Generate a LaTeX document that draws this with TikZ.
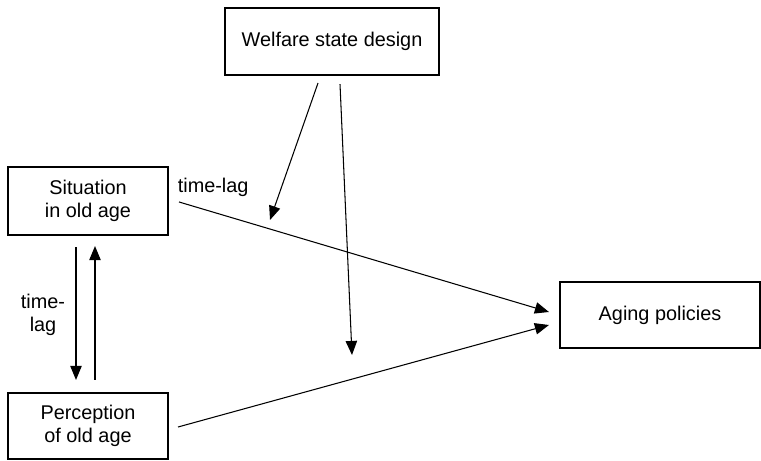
\documentclass[tikz,border=0pt]{standalone}
\usepackage{fontspec}
\setmainfont{Liberation Sans}
\usepackage{tikz}
\usetikzlibrary{arrows.meta, positioning, calc}

\tikzset{
  caixa/.style={draw, line width=1.2pt, align=center, inner sep=2pt,
    font=\fontsize{11.3}{13}\selectfont},
  seta/.style={-{Triangle[length=8pt, width=6.5pt]}, line width=0.6pt},
  rotulo/.style={font=\fontsize{11.3}{13}\selectfont, align=center, inner sep=0pt}
}

\begin{document}
\begin{tikzpicture}
\useasboundingbox (0,0) rectangle (15.22,9.22);

% --- CAIXAS ---
\node[caixa, minimum width=4.28cm, minimum height=1.34cm] (welfare) at (6.64,8.39) {Welfare state design};
\node[caixa, minimum width=3.2cm, minimum height=1.36cm] (situation) at (1.76,5.2) {Situation\\in old age};
\node[caixa, minimum width=3.2cm, minimum height=1.32cm] (perception) at (1.76,0.7) {Perception\\of old age};
\node[caixa, minimum width=4.0cm, minimum height=1.32cm] (aging) at (13.2,2.92) {Aging policies};

% --- PONTOS LIVRES ---
\coordinate (modA) at (5.4,4.82);
\coordinate (modB) at (7.04,2.12);

% --- SETAS ---
\draw[seta] ($(welfare.south)+(-0.28,-0.14)$) -- (modA);
\draw[seta] ($(welfare.south)+(0.16,-0.16)$) -- (modB);

\draw[seta] ($(situation.east)+(0.2,-0.02)$) -- ($(aging.west)+(-0.2,0.06)$)
  node[pos=0, above right, rotulo, xshift=-1pt, yshift=3pt] {time-lag};
\draw[seta] ($(perception.east)+(0.18,-0.02)$) -- ($(aging.west)+(-0.2,-0.2)$);

\draw[seta] ($(situation.south)+(-0.24,-0.22)$) -- ($(perception.north)+(-0.24,0.24)$);
\draw[seta] ($(perception.north)+(0.14,0.24)$) -- ($(situation.south)+(0.14,-0.2)$);
\node[rotulo] (lag) at (0.86,2.92) {time-\\lag};
\end{tikzpicture}
\end{document}
